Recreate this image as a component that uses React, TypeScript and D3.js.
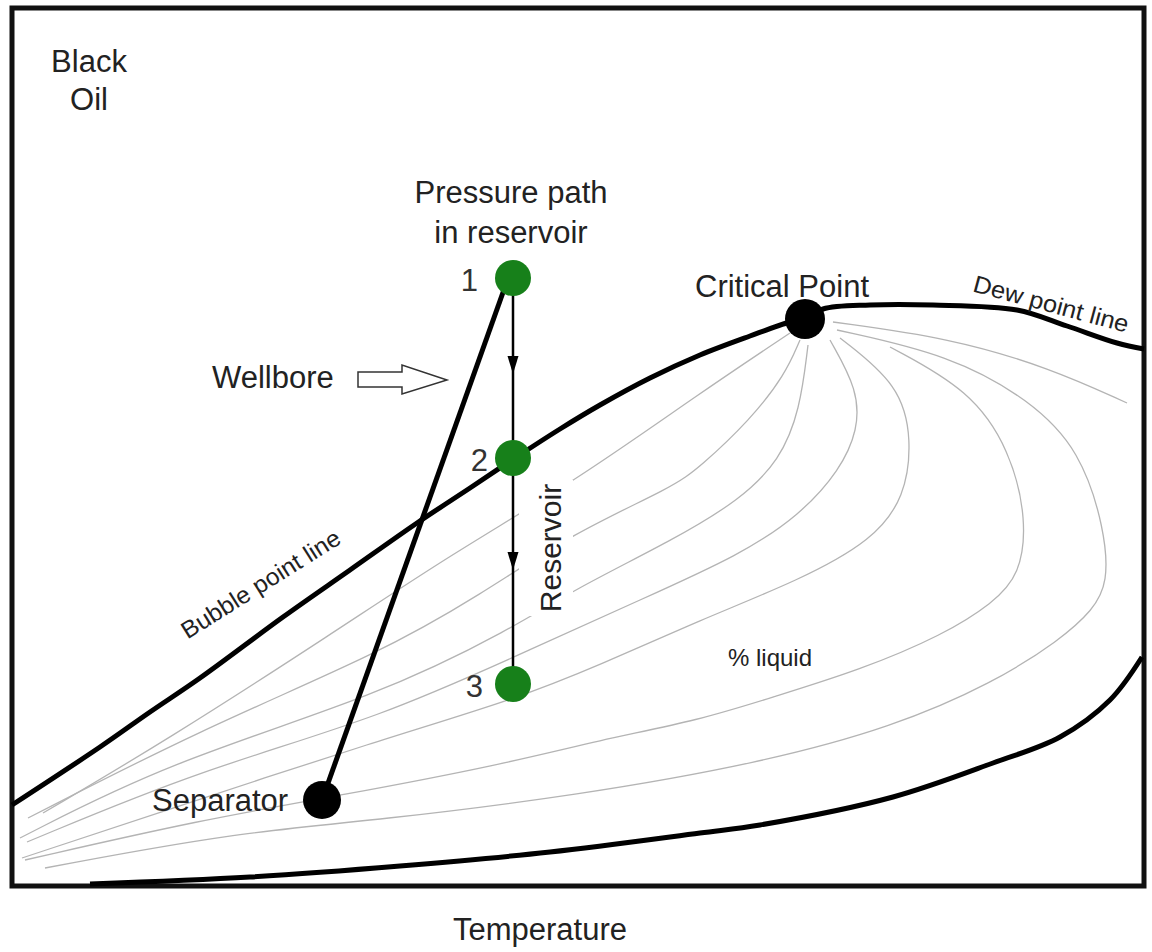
import React from 'react';
import * as d3 from 'd3';

const width = 1152;
const height = 952;

// diagram units inside the frame: temperature 0..1132, pressure 0..878
const tempMax = 1132;
const presMax = 878;

// phase envelope, [temperature, pressure]
const bubbleLine = [[0, 81], [88, 139], [138, 174], [188, 208], [271, 269], [338, 316], [405, 363], [458, 398], [503, 428], [548, 457], [588, 481], [638, 508], [688, 531], [738, 550], [778, 564], [793, 567]];
const dewLine = [[793, 567], [811, 577], [858, 581], [921, 581], [1005, 576], [1055, 560], [1105, 543], [1132, 537]];
const lowerDewLine = [[78, 2], [238, 9], [388, 20], [538, 34], [688, 53], [748, 61], [881, 89], [981, 123], [1048, 149], [1098, 186], [1130, 229]];

// % liquid lines
const quality1 = [[31, 73], [155, 146], [321, 253], [438, 331], [565, 406], [688, 493], [778, 553]];
const quality2 = [[16, 68], [188, 156], [368, 233], [468, 291], [561, 353], [661, 399], [688, 419], [738, 466], [773, 511], [788, 546]];
const quality3 = [[8, 48], [155, 123], [368, 191], [501, 258], [561, 296], [661, 346], [728, 386], [768, 426], [788, 476], [796, 541]];
const quality4 = [[15, 44], [188, 116], [368, 168], [528, 241], [628, 286], [728, 331], [788, 371], [828, 416], [846, 456], [846, 496], [818, 546]];
const quality5 = [[10, 28], [155, 76], [368, 146], [501, 186], [588, 221], [688, 266], [788, 306], [861, 346], [893, 389], [900, 446], [888, 501], [828, 548]];
const quality6 = [[13, 26], [188, 66], [331, 91], [488, 121], [588, 146], [688, 166], [761, 189], [848, 216], [931, 251], [981, 283], [1008, 311], [1015, 366], [998, 436], [958, 496], [878, 539]];
const quality7 = [[33, 18], [221, 53], [368, 66], [568, 91], [748, 123], [881, 159], [981, 203], [1048, 246], [1081, 276], [1096, 303], [1093, 356], [1068, 436], [1018, 486], [938, 531], [825, 556]];
const quality8 = [[821, 564], [938, 548], [1038, 518], [1115, 483]];
const qualityLines = [quality1, quality2, quality3, quality4, quality5, quality6, quality7, quality8];

// pressure path in reservoir
const reservoirPoints = [[501, 608], [501, 428], [501, 202]];
const reservoirLabels = ['1', '2', '3'];
const flowArrows = [521, 325];

const criticalPoint = [793, 567];
const separator = [310, 86];
const wellboreTop = [494, 602];

const x = d3.scaleLinear().domain([0, tempMax]).range([12, 1144]);
const y = d3.scaleLinear().domain([0, presMax]).range([886, 8]);

const curve = d3.line<number[]>()
    .x(d => x(d[0]))
    .y(d => y(d[1]))
    .curve(d3.curveCatmullRom.alpha(0.5));

// smoother curve for the thin quality lines
const smooth = d3.line<number[]>()
    .x(d => x(d[0]))
    .y(d => y(d[1]))
    .curve(d3.curveBasis);

const font = '"Liberation Sans", Arial, sans-serif';
const ink = '#222';
const green = '#17801a';

const App = () => {
    const envelope = bubbleLine.concat(dewLine.slice(1));
    const labelDx = [-35, -25, -30];

    return (
        <svg width={width} height={height} style={{ position: 'absolute', left: 0, top: 0, background: '#fff' }}
            fontFamily={font} fill={ink}>
            <rect x={x(0)} y={y(presMax)} width={x(tempMax) - x(0)} height={y(0) - y(presMax)}
                fill="#fff" stroke="#111" strokeWidth={5} />

            {qualityLines.map((q, i) => (
                <path key={i} d={smooth(q) || ''} fill="none" stroke="#b4b4b4" strokeWidth={1.3} />
            ))}

            {/* label box behind "Reservoir" hides the grey lines */}
            <rect x={519} y={480} width={54} height={136} fill="#fff" />

            <path d={curve(envelope) || ''} fill="none" stroke="#000" strokeWidth={5} />
            <path d={curve(lowerDewLine) || ''} fill="none" stroke="#000" strokeWidth={5} />

            {/* wellbore */}
            <line x1={x(separator[0])} y1={y(separator[1])} x2={x(wellboreTop[0])} y2={y(wellboreTop[1])}
                stroke="#000" strokeWidth={5} />

            {/* reservoir depletion path */}
            <line x1={x(reservoirPoints[0][0])} y1={y(reservoirPoints[0][1])}
                x2={x(reservoirPoints[2][0])} y2={y(reservoirPoints[2][1])} stroke="#000" strokeWidth={2.5} />
            {flowArrows.map((p, i) => {
                const cx = x(reservoirPoints[0][0]);
                const cy = y(p);
                return <path key={i} d={`M${cx - 5.5},${cy - 9} L${cx + 5.5},${cy - 9} L${cx},${cy + 9} Z`} fill="#000" />;
            })}
            {reservoirPoints.map((p, i) => (
                <g key={i}>
                    <circle cx={x(p[0])} cy={y(p[1])} r={18} fill={green} />
                    <text x={x(p[0]) + labelDx[i]} y={y(p[1]) + 13} fontSize={31} textAnchor="end" fill="#333">{reservoirLabels[i]}</text>
                </g>
            ))}

            <circle cx={x(criticalPoint[0])} cy={y(criticalPoint[1])} r={20} fill="#000" />
            <circle cx={x(separator[0])} cy={y(separator[1])} r={19} fill="#000" />

            {/* hollow arrow pointing at the wellbore */}
            <path d="M358,372 L402,372 L402,365 L447,380 L402,394 L402,387 L358,387 Z"
                fill="#fff" stroke="#333" strokeWidth={1.5} />

            <text x={89} y={72} fontSize={31} textAnchor="middle">Black</text>
            <text x={89} y={110} fontSize={31} textAnchor="middle">Oil</text>
            <text x={511} y={203} fontSize={31} textAnchor="middle">Pressure path</text>
            <text x={511} y={243} fontSize={31} textAnchor="middle">in reservoir</text>
            <text x={212} y={388} fontSize={31}>Wellbore</text>
            <text x={695} y={297} fontSize={31}>Critical Point</text>
            <text x={152} y={811} fontSize={31}>Separator</text>
            <text x={728} y={666} fontSize={24}>% liquid</text>
            <text transform="translate(561,548) rotate(-90)" fontSize={30} textAnchor="middle">Reservoir</text>
            <text transform="translate(265,591) rotate(-32)" fontSize={24} textAnchor="middle"
                textLength={183} lengthAdjust="spacingAndGlyphs">Bubble point line</text>
            <text transform="translate(1049,312) rotate(15)" fontSize={24} textAnchor="middle"
                textLength={160} lengthAdjust="spacingAndGlyphs">Dew point line</text>
            <text x={540} y={940} fontSize={31} textAnchor="middle">Temperature</text>
        </svg>
    );
};

export default App;
